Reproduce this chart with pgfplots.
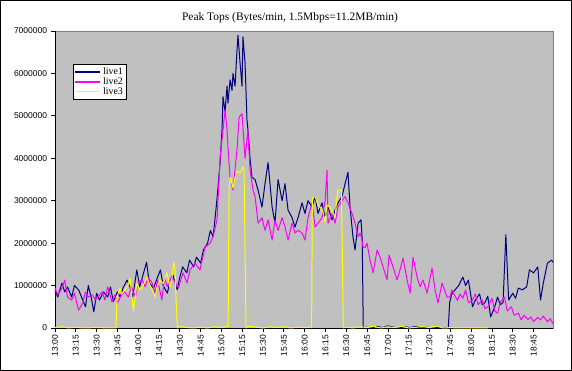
\documentclass[border=0pt]{standalone}
\usepackage{fontspec}
\usepackage{pgfplots}
\usepackage{pgfplotstable}
\pgfplotsset{compat=1.18}
\setmainfont{Liberation Serif}
\newfontfamily\arial{Liberation Sans}
\definecolor{bgGray}{RGB}{192,192,192}
\definecolor{bdGray}{RGB}{128,128,128}
\definecolor{navyC}{RGB}{0,0,128}
\definecolor{magC}{RGB}{255,0,255}
\definecolor{yelC}{RGB}{255,255,0}

% time in minutes after 13:00, value in thousands of bytes/min
\pgfplotstableread{
t v
0 900
2 730
5 1060
7 850
9 970
12 730
14 1000
17 900
20 660
22 500
24 1000
26 730
28 380
30 820
32 660
35 850
38 730
40 970
42 620
45 850
47 730
49 940
52 1130
54 970
56 730
59 1370
61 970
63 1200
66 1550
68 1060
71 940
74 1200
76 1370
78 1000
81 820
83 1130
85 1250
88 900
90 1200
92 1440
95 1300
97 1600
100 1440
102 1670
105 1530
107 1840
110 2000
112 2300
114 2150
116 2780
117.5 3300
119 3900
120.4 4670
121.1 5450
122.6 5100
124.0 5700
124.7 5300
126.2 5850
127.6 5600
128.3 6000
129.8 5700
131.2 6550
131.9 6900
133.4 6250
134.8 5700
135.5 6860
137.0 6250
138.4 4900
139.1 4670
140.6 4000
142.0 3550
144.2 3500
146.4 3250
149.2 2850
151.4 3400
153.6 3900
156.5 2850
158.6 2470
160.8 3500
163.7 3000
165.8 3400
168.0 2780
170.9 2600
173.0 2380
175.2 2600
178.1 2950
180.2 2700
182.4 3000
185.3 2850
187.5 3100
189.6 2700
192.5 2950
194.7 2600
196.8 2850
199.7 2550
201.9 2780
204.0 2950
206.9 3100
209.1 3400
211.2 3670
212.7 2850
214.8 2150
216.3 1840
218.5 2470
220.6 2550
221.5 2070
222.2 0
224 20
228 0
232 40
236 10
240 50
244 20
248 0
252 30
256 10
260 40
264 0
268 20
272 0
276 10
280 0
283.5 0
284.5 600
286 800
288.4 900
291 1000
294 1200
296 1000
298 1130
301 500
303 660
306 800
308 550
310 600
312 750
314 260
317 500
319 730
321 550
323 600
325 2200
327 660
330 820
332 700
334 940
337 900
340 970
342 1370
345 1300
348 1440
350 660
352 1060
355 1530
358 1600
359 1550
}\liveone

\pgfplotstableread{
t v
0 940
2 780
5 940
7 1130
9 730
12 660
14 820
17 420
20 590
22 850
24 730
27 780
29 660
31 730
34 850
36 660
38 970
41 620
43 780
45 590
48 780
50 850
53 730
55 970
58 730
60 1100
63 1130
65 970
67 1200
70 1060
72 820
74 1130
77 660
79 1170
81 970
84 1200
87 1060
89 940
91 1170
92.3 1300
95.2 1060
97.3 1370
100.9 1530
104.5 1370
108.1 1900
111.8 2000
113.9 2150
116.8 2550
119.0 4000
121.1 4670
122.6 5140
124.0 4670
124.7 4270
126.2 3550
128.3 3250
131.2 4200
132.7 4970
134.8 5050
137.0 4000
139.1 4670
140.6 3720
142.8 3250
144.2 3100
146.4 2470
149.2 2600
151.4 2300
153.6 2550
156.5 2070
158.6 2550
160.8 2300
163.7 2600
165.8 2380
168.0 2070
170.9 2470
173.0 2240
175.2 2300
178.1 2240
180.2 2070
182.4 2600
185.3 2950
187.5 2380
189.6 2470
192.5 2600
194.7 3000
196.1 3720
196.8 2470
199.7 2700
201.9 2470
204.0 2850
206.9 3000
209.1 3100
211.2 2950
214.1 2700
216.3 2470
218.5 2150
219.9 2240
221.3 2070
222.1 1900
223.5 1900
224.9 2000
227.1 1600
229.3 1300
232.2 1840
234.3 1670
236.5 1440
239.4 1130
240.8 1720
243.7 1440
246.6 1130
248.7 1370
250.9 1650
253.8 1130
256.0 820
258.1 1670
261.0 1200
263.2 970
265.3 1130
268.2 820
271.8 1410
274.0 900
276.1 590
279.0 1060
282.6 730
284.8 730
286 900
288 780
290 650
292 800
294 700
296 900
298 600
301 660
303 800
305 550
308 660
310 450
312 500
315 700
317 400
319 350
321 600
324 730
326 400
329 500
331 300
334 350
336 190
338 300
341 200
343 260
345 150
348 250
350 190
352 280
355 150
357 220
359 100
}\livetwo

\pgfplotstableread{
t v
0 10
5 30
10 0
15 20
20 0
30 10
40 0
44 0
44.7 730
46.9 940
48 800
50.5 900
52.6 1000
54.1 1170
56.5 400
59.1 1060
61 900
62.7 940
65 1100
66.3 1200
68.5 1000
70.7 850
72.1 730
74 1000
75.7 1130
78 1050
80.7 1300
82.9 970
84.4 1200
85.5 1550
86.5 1400
87.2 730
88.2 0
90 40
95 10
100 0
105 20
110 0
115 30
120 10
124.8 40
125.5 3300
126.5 3550
128.3 3300
129.8 3550
131.2 3700
133.4 3650
135.5 3800
136.3 3700
137.7 0
140 40
145 20
150 0
155 30
160 10
165 30
170 0
175 20
180 10
185 20
185.5 3060
187.5 3100
189.6 2900
191.1 2850
193.5 2700
194.7 2500
196.1 2900
198.3 2850
200.5 2700
201.9 2600
203 3000
204.0 3250
206.5 3250
207.3 1400
207.8 0
210 20
215 0
220 30
225 10
230 40
235 0
240 30
245 10
250 40
255 0
260 20
265 30
270 10
275 40
280 0
285 10
290 0
300 0
312 0
}\livethree

\begin{document}
\begin{tikzpicture}
\useasboundingbox (0,0) rectangle (572bp,371bp);
\draw[black, line width=1.2bp] (0.6bp,0.6bp) rectangle (571.4bp,370.4bp);
\begin{axis}[
  at={(55bp,43bp)}, anchor=south west,
  scale only axis, width=498bp, height=297bp,
  xmin=0, xmax=359, ymin=0, ymax=7000,
  clip=false,
  axis background/.style={fill=bgGray, draw=bdGray},
  axis x line*=bottom, axis y line*=left,
  axis line style={black, line width=0.8bp, -},
  xtick={0,15,...,345},
  xticklabels={13:00,13:15,13:30,13:45,14:00,14:15,14:30,14:45,15:00,15:15,15:30,15:45,16:00,16:15,16:30,16:45,17:00,17:15,17:30,17:45,18:00,18:15,18:30,18:45},
  ytick={0,1000,...,7000},
  yticklabels={0,1000000,2000000,3000000,4000000,5000000,6000000,7000000},
  tick align=outside,
  major tick length=3.5bp,
  tick style={black, line width=0.8bp},
  ticklabel style={font=\arial\fontsize{8.5}{10}\selectfont},
  xticklabel style={rotate=90, anchor=east, xshift=0bp},
  yticklabel style={xshift=-1bp},
  title={Peak Tops (Bytes/min, 1.5Mbps=11.2MB/min)},
  title style={font=\fontsize{11.5}{13}\selectfont, at={(0.472,1)}, anchor=center, yshift=7bp},
  legend style={at={(0.036,0.889)}, anchor=north west, draw=black, fill=white,
     font=\fontsize{10}{11}\selectfont, inner sep=1.5bp, row sep=-2.5bp,
     line width=0.8bp},
  legend cell align=left,
  legend image code/.code={\draw[#1, line width=1.2bp] (0bp,0bp) -- (25bp,0bp);},
  every axis plot/.append style={line width=1bp, line join=round},
]
\addplot[navyC] table[x=t,y=v] {\liveone};
\addlegendentry{live1}
\addplot[magC] table[x=t,y=v] {\livetwo};
\addlegendentry{live2}
\addplot[yelC] table[x=t,y=v] {\livethree};
\addlegendentry{live3}
\end{axis}
\end{tikzpicture}
\end{document}
